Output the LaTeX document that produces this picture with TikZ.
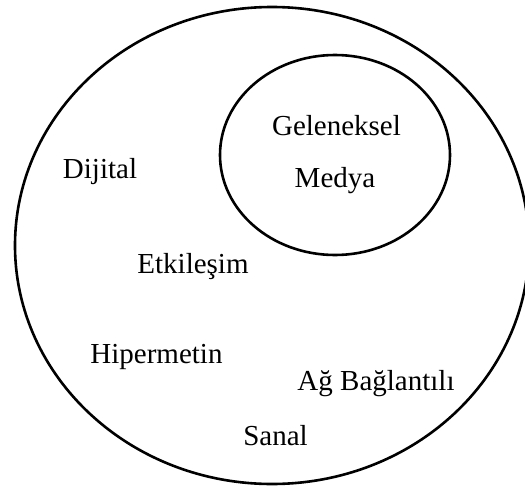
\documentclass[tikz,border=0pt]{standalone}
\usepackage{fontspec}
\setmainfont{Liberation Serif}
\usetikzlibrary{shapes.geometric}
\begin{document}
\begin{tikzpicture}[x=1pt,y=-1pt,
  ring/.style={draw=black, line width=2.6pt, ellipse, inner sep=0pt},
  word/.style={anchor=base, inner sep=0pt, font=\fontsize{29}{34}\selectfont}]
  \useasboundingbox (0,0) rectangle (525,490);
  \clip (0,0) rectangle (525,490);
  % outer set and inner set
  \node[ring, minimum width=514pt, minimum height=477pt] (outer) at (272,245.5) {};
  \node[ring, minimum width=230pt, minimum height=200pt] (inner) at (335,155) {};
  % labels
  \node[word] (gel) at (336.5,135) {Geleneksel};
  \node[word] (med) at (335,187) {Medya};
  \node[word] (dij) at (100,178) {Dijital};
  \node[word] (etk) at (193,273) {Etkileşim};
  \node[word] (hip) at (156.5,363) {Hipermetin};
  \node[word] (ag) at (376,390) {Ağ Bağlantılı};
  \node[word] (san) at (275.5,445) {Sanal};
\end{tikzpicture}
\end{document}
